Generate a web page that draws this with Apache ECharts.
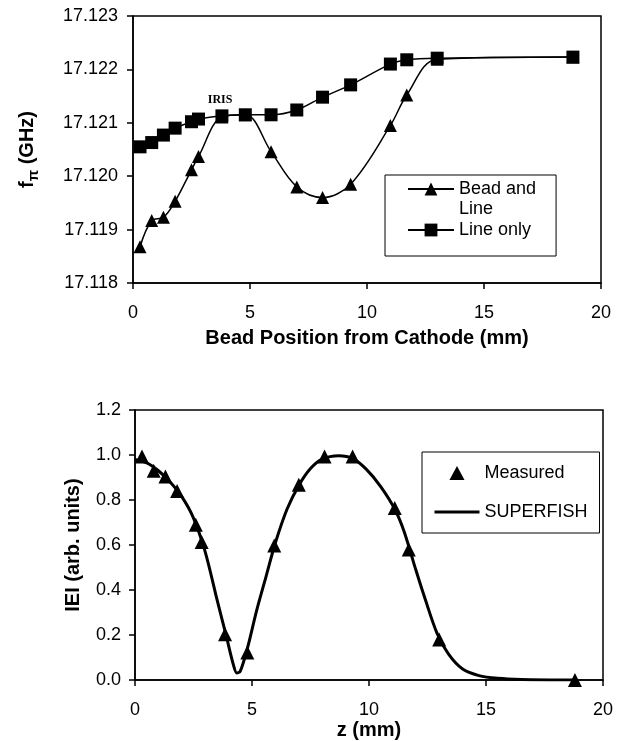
<!DOCTYPE html>
<html>
<head>
<meta charset="utf-8">
<script src="https://cdn.jsdelivr.net/npm/echarts@6/dist/echarts.min.js"></script>
<style>
  html, body { margin: 0; padding: 0; background: #fff; }
  #chart { width: 623px; height: 741px; }
</style>
</head>
<body>
<div id="chart"></div>
<script>
// top panel: pi-mode frequency vs bead position
const beadPos = [0.3, 0.8, 1.3, 1.8, 2.5, 2.8, 3.8, 4.8, 5.9, 7.0, 8.1, 9.3, 11.0, 11.7, 13.0, 18.8];
const beadAndLine = [17.11868, 17.11917, 17.11923, 17.11953, 17.12012, 17.12037, 17.12111, 17.12115,
  17.12046, 17.1198, 17.1196, 17.11985, 17.12095, 17.12152, 17.12219, 17.12223];
const lineOnly = [17.12055, 17.12063, 17.12077, 17.1209, 17.12102, 17.12107, 17.12113, 17.12115,
  17.12115, 17.12124, 17.12148, 17.12171, 17.1221, 17.12218, 17.12221, 17.12223];
const irisAt = [3.72, 17.12142];

// bottom panel: field amplitude
const measZ = [0.3, 0.8, 1.3, 1.8, 2.6, 2.85, 3.85, 4.8, 5.95, 7.0, 8.1, 9.3, 11.1, 11.7, 13.0, 18.8];
const measured = [0.993, 0.93, 0.905, 0.84, 0.69, 0.614, 0.204, 0.123, 0.598, 0.868, 0.993, 0.993,
  0.765, 0.58, 0.18, 0.0];
const sfZ = [0.0, 0.5, 1.0, 1.5, 2.0, 2.5, 3.0, 3.5, 3.9, 4.2, 4.35, 4.5, 4.8, 5.2, 5.6, 6.0, 6.5, 7.0,
  7.5, 8.0, 8.7, 9.3, 9.9, 10.5, 11.1, 11.5, 12.0, 12.4, 12.9, 13.4, 14.0, 14.7, 15.5, 16.5, 18.8];
const superfish = [0.98, 0.965, 0.93, 0.88, 0.815, 0.72, 0.57, 0.36, 0.196, 0.07, 0.032, 0.04, 0.14,
  0.31, 0.46, 0.61, 0.76, 0.865, 0.94, 0.982, 0.997, 0.985, 0.935, 0.86, 0.76, 0.66, 0.49, 0.36, 0.21,
  0.115, 0.049, 0.02, 0.008, 0.003, 0.0];

const FONT = "'Liberation Sans', Arial, sans-serif";
const zip = (xs, ys) => xs.map((x, i) => [x, ys[i]]);

const axisLine = { show: true, lineStyle: { color: '#000', width: 1.5 } };
const axisTick = { show: true, inside: false, length: 6, lineStyle: { color: '#000', width: 1.5 } };
const labelStyle = { color: '#000', fontSize: 18, fontFamily: FONT };
const titleStyle = { color: '#000', fontSize: 20, fontWeight: 'bold', fontFamily: FONT };

const chart = echarts.init(document.getElementById('chart'), null, { renderer: 'canvas' });

chart.setOption({
  animation: false,
  backgroundColor: '#fff',
  grid: [
    { left: 133, top: 16, width: 468, height: 267, show: true, borderColor: '#000', borderWidth: 1.5 },
    { left: 135, top: 410, width: 468, height: 271, show: true, borderColor: '#000', borderWidth: 1.5 }
  ],
  xAxis: [
    {
      gridIndex: 0, type: 'value', min: 0, max: 20, interval: 5,
      axisLine, axisTick, splitLine: { show: false },
      axisLabel: Object.assign({ margin: 21 }, labelStyle),
      name: 'Bead Position from Cathode (mm)', nameLocation: 'middle', nameGap: 45,
      nameTextStyle: titleStyle
    },
    {
      gridIndex: 1, type: 'value', min: 0, max: 20, interval: 5,
      axisLine, axisTick, splitLine: { show: false },
      axisLabel: Object.assign({ margin: 21 }, labelStyle),
      name: 'z (mm)', nameLocation: 'middle', nameGap: 32,
      nameTextStyle: titleStyle
    }
  ],
  yAxis: [
    {
      gridIndex: 0, type: 'value', min: 17.118, max: 17.123, interval: 0.001,
      axisLine, axisTick, splitLine: { show: false },
      axisLabel: Object.assign({ margin: 15, formatter: v => v.toFixed(3) }, labelStyle),
      name: 'f{pi|π} (GHz)', nameLocation: 'middle', nameGap: 92,
      nameTextStyle: Object.assign({
        rich: { pi: { fontSize: 15, fontWeight: 'bold', fontFamily: FONT, color: '#000', padding: [12, 0, 0, 0] } }
      }, titleStyle)
    },
    {
      gridIndex: 1, type: 'value', min: 0, max: 1.2, interval: 0.2,
      axisLine, axisTick, splitLine: { show: false },
      axisLabel: Object.assign({ margin: 14, formatter: v => v.toFixed(1) }, labelStyle),
      name: 'IEI (arb. units)', nameLocation: 'middle', nameGap: 52,
      nameTextStyle: titleStyle
    }
  ],
  legend: [
    {
      orient: 'vertical', left: 385, top: 175,
      data: ['Bead and Line', 'Line only'],
      // leading blank line keeps the icon level with the first text line
      formatter: n => (n === 'Bead and Line' ? ' \nBead and\nLine' : n),
      itemWidth: 46, itemHeight: 16, itemGap: 1,
      padding: [-16, 20, 16, 22],
      borderColor: '#000', borderWidth: 1, borderRadius: 0,
      textStyle: { color: '#000', fontSize: 18, lineHeight: 20, fontFamily: FONT }
    },
    {
      orient: 'vertical', left: 422, top: 452,
      data: [
        { name: 'Measured', icon: 'path://M0,13L7,0L14,13Z' },
        { name: 'SUPERFISH', itemStyle: { color: 'rgba(0,0,0,0)', borderWidth: 0 }, lineStyle: { width: 3, color: '#000' } }
      ],
      itemWidth: 45, itemHeight: 14, itemGap: 21, symbolKeepAspect: true,
      padding: [12, 12, 12, 11],
      borderColor: '#000', borderWidth: 1, borderRadius: 0,
      textStyle: { color: '#000', fontSize: 18, fontFamily: FONT }
    }
  ],
  series: [
    {
      name: 'Bead and Line', type: 'line', xAxisIndex: 0, yAxisIndex: 0,
      data: zip(beadPos, beadAndLine), smooth: 0.35,
      symbol: 'triangle', symbolSize: 13,
      lineStyle: { color: '#000', width: 1.5 }, itemStyle: { color: '#000' }
    },
    {
      name: 'Line only', type: 'line', xAxisIndex: 0, yAxisIndex: 0,
      data: zip(beadPos, lineOnly), smooth: 0.35,
      symbol: 'rect', symbolSize: 13,
      lineStyle: { color: '#000', width: 1.5 }, itemStyle: { color: '#000' },
      markPoint: {
        symbol: 'rect', symbolSize: 0,
        label: {
          show: true, position: 'inside', formatter: 'IRIS', color: '#000',
          fontSize: 12, fontWeight: 'bold', fontFamily: "'Liberation Serif', 'Times New Roman', serif"
        },
        data: [{ coord: irisAt }]
      }
    },
    {
      name: 'SUPERFISH', type: 'line', xAxisIndex: 1, yAxisIndex: 1,
      data: zip(sfZ, superfish), smooth: 0.3, symbol: 'none',
      lineStyle: { color: '#000', width: 3 }, itemStyle: { color: '#000' }
    },
    {
      name: 'Measured', type: 'scatter', xAxisIndex: 1, yAxisIndex: 1,
      data: zip(measZ, measured), symbol: 'triangle', symbolSize: 14,
      itemStyle: { color: '#000', opacity: 1 }, z: 3
    }
  ]
});
</script>
</body>
</html>
